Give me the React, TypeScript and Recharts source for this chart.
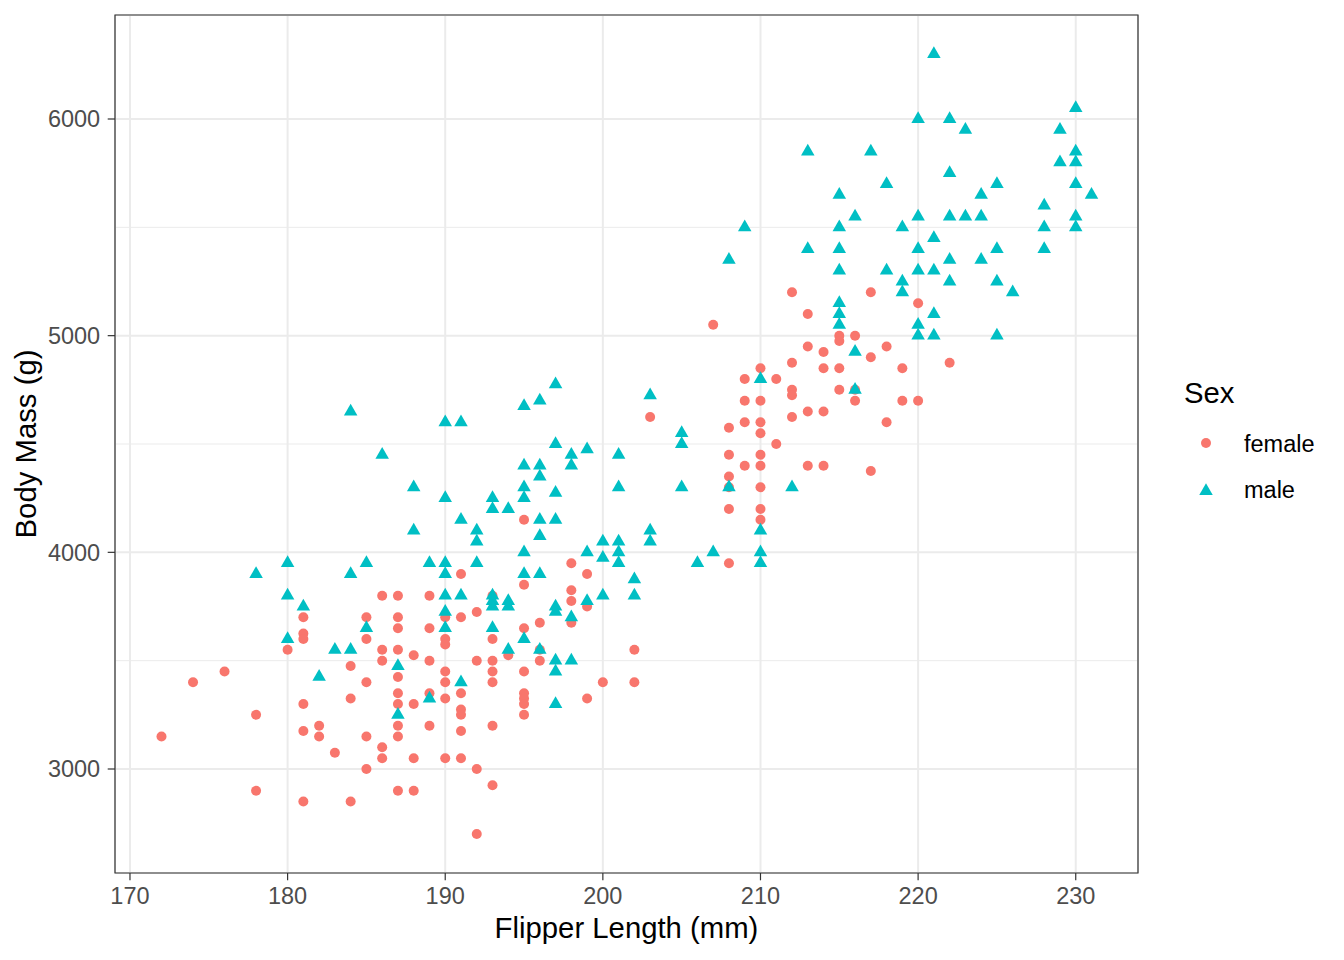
import { ScatterChart, Scatter, XAxis, YAxis, CartesianGrid, ReferenceArea, Label } from 'recharts';

const FONT = '"Liberation Sans", Arial, Helvetica, sans-serif';
const FEMALE_COLOR = '#F8766D';
const MALE_COLOR = '#00BFC4';

const xTicks = [170, 180, 190, 200, 210, 220, 230];
const xMinorTicks = [175, 185, 195, 205, 215, 225];
const yTicks = [3000, 4000, 5000, 6000];
const yMinorTicks = [3500, 4500, 5500];
const legendLabels = ['female', 'male'];

// [flipper length (mm), body mass (g)]
const femalePoints: [number, number][] = [
  [172, 3150], [174, 3400], [176, 3450], [178, 3250], [178, 2900], [180, 3550],
  [181, 3700], [181, 3625], [181, 3600], [181, 3300], [181, 3175], [181, 2850],
  [182, 3200], [182, 3150], [183, 3075], [184, 3475], [184, 3325], [184, 2850],
  [185, 3700], [185, 3600], [185, 3400], [185, 3150], [185, 3000],
  [186, 3800], [186, 3550], [186, 3500], [186, 3100], [186, 3050],
  [187, 3800], [187, 3700], [187, 3650], [187, 3550], [187, 3425], [187, 3350],
  [187, 3300], [187, 3200], [187, 3150], [187, 2900],
  [188, 3525], [188, 3300], [188, 3050], [188, 2900],
  [189, 3800], [189, 3650], [189, 3500], [189, 3350], [189, 3200],
  [190, 3700], [190, 3600], [190, 3575], [190, 3450], [190, 3400], [190, 3325], [190, 3050],
  [191, 3900], [191, 3700], [191, 3350], [191, 3275], [191, 3250], [191, 3175], [191, 3050],
  [192, 3725], [192, 3500], [192, 3000], [192, 2700],
  [193, 3800], [193, 3600], [193, 3500], [193, 3450], [193, 3400], [193, 3200], [193, 2925],
  [194, 3525],
  [195, 4150], [195, 3850], [195, 3650], [195, 3450], [195, 3350], [195, 3325], [195, 3300], [195, 3250],
  [196, 3675], [196, 3550], [196, 3500],
  [198, 3950], [198, 3825], [198, 3775], [198, 3675],
  [199, 3900], [199, 3750], [199, 3325], [200, 3400], [202, 3550], [202, 3400],
  [203, 4625], [207, 5050],
  [208, 4575], [208, 4450], [208, 4350], [208, 4300], [208, 4200], [208, 3950],
  [209, 4800], [209, 4700], [209, 4600], [209, 4400],
  [210, 4850], [210, 4700], [210, 4600], [210, 4550], [210, 4450], [210, 4400],
  [210, 4300], [210, 4200], [210, 4150],
  [211, 4800], [211, 4500],
  [212, 5200], [212, 4875], [212, 4750], [212, 4725], [212, 4625],
  [213, 5100], [213, 4950], [213, 4650], [213, 4400],
  [214, 4925], [214, 4850], [214, 4650], [214, 4400],
  [215, 5000], [215, 4975], [215, 4850], [215, 4750],
  [216, 5000], [216, 4750], [216, 4700],
  [217, 5200], [217, 4900], [217, 4375],
  [218, 4950], [218, 4600], [219, 4850], [219, 4700], [220, 5150], [220, 4700], [222, 4875],
];

const malePoints: [number, number][] = [
  [178, 3900], [180, 3950], [180, 3800], [180, 3600], [181, 3750], [182, 3425], [183, 3550],
  [184, 4650], [184, 3900], [184, 3550], [185, 3950], [185, 3650], [186, 4450],
  [187, 3475], [187, 3250], [188, 4300], [188, 4100], [189, 3950], [189, 3325],
  [190, 4600], [190, 4250], [190, 3950], [190, 3900], [190, 3800], [190, 3725], [190, 3650],
  [191, 4600], [191, 4150], [191, 3800], [191, 3400],
  [192, 4100], [192, 4050], [192, 3950],
  [193, 4250], [193, 4200], [193, 3800], [193, 3775], [193, 3750], [193, 3650],
  [194, 4200], [194, 3775], [194, 3750], [194, 3550],
  [195, 4675], [195, 4400], [195, 4300], [195, 4250], [195, 4000], [195, 3900], [195, 3600],
  [196, 4700], [196, 4400], [196, 4350], [196, 4150], [196, 4075], [196, 3900], [196, 3550],
  [197, 4775], [197, 4500], [197, 4275], [197, 4150], [197, 3750], [197, 3725],
  [197, 3500], [197, 3450], [197, 3300],
  [198, 4450], [198, 4400], [198, 3700], [198, 3500],
  [199, 4475], [199, 4000], [199, 3775],
  [200, 4050], [200, 3975], [200, 3800],
  [201, 4450], [201, 4300], [201, 4050], [201, 4000], [201, 3950],
  [202, 3875], [202, 3800], [203, 4725], [203, 4100], [203, 4050],
  [205, 4550], [205, 4500], [205, 4300], [206, 3950], [207, 4000],
  [208, 5350], [208, 4300], [209, 5500],
  [210, 4800], [210, 4100], [210, 4000], [210, 3950], [212, 4300],
  [213, 5850], [213, 5400],
  [215, 5650], [215, 5500], [215, 5400], [215, 5300], [215, 5150], [215, 5100], [215, 5050],
  [216, 5550], [216, 4925], [216, 4750], [217, 5850], [218, 5700], [218, 5300],
  [219, 5500], [219, 5250], [219, 5200],
  [220, 6000], [220, 5550], [220, 5400], [220, 5300], [220, 5050], [220, 5000],
  [221, 6300], [221, 5450], [221, 5300], [221, 5100], [221, 5000],
  [222, 6000], [222, 5750], [222, 5550], [222, 5350], [222, 5250],
  [223, 5950], [223, 5550], [224, 5650], [224, 5550], [224, 5350],
  [225, 5700], [225, 5400], [225, 5250], [225, 5000], [226, 5200],
  [228, 5600], [228, 5500], [228, 5400], [229, 5950], [229, 5800],
  [230, 6050], [230, 5850], [230, 5800], [230, 5700], [230, 5550], [230, 5500], [231, 5650],
];

const toRows = (pts: [number, number][]) => pts.map(([flipper, mass]) => ({ flipper, mass }));
const femaleRows = toRows(femalePoints);
const maleRows = toRows(malePoints);

// ggplot-style 5% expansion of the data range
function expand(vals: number[]): [number, number] {
  const lo = Math.min(...vals);
  const hi = Math.max(...vals);
  const pad = (hi - lo) * 0.05;
  return [lo - pad, hi + pad];
}
const allPts = [...femalePoints, ...malePoints];
const xDomain = expand(allPts.map(p => p[0]));
const yDomain = expand(allPts.map(p => p[1]));

const Dot = ({ cx, cy }: any) => <circle cx={cx} cy={cy} r={5} fill={FEMALE_COLOR} />;

const Tri = ({ cx, cy }: any) => {
  const r = 7.8;
  const hw = r * 0.866;
  return (
    <polygon
      points={`${cx},${cy - r} ${cx + hw},${cy + r / 2} ${cx - hw},${cy + r / 2}`}
      fill={MALE_COLOR}
    />
  );
};

const tickStyle = { fill: '#4D4D4D', fontSize: 23.5, fontFamily: FONT };
const tickLine = { stroke: '#333333', strokeWidth: 1.2 };

function Legend() {
  return (
    <svg width={184} height={140} style={{ position: 'absolute', left: 1160, top: 370 }}>
      <text x={24} y={33} fontSize={29.3} fontFamily={FONT} fill="#000">Sex</text>
      <circle cx={46} cy={73} r={5} fill={FEMALE_COLOR} />
      <text x={84} y={81.5} fontSize={23.5} fontFamily={FONT} fill="#000">{legendLabels[0]}</text>
      <Tri cx={46} cy={121} />
      <text x={84} y={127.5} fontSize={23.5} fontFamily={FONT} fill="#000">{legendLabels[1]}</text>
    </svg>
  );
}

export default function App() {
  return (
    <div style={{ position: 'absolute', left: 0, top: 0, width: 1344, height: 960, background: '#fff' }}>
      <ScatterChart width={1344} height={960} margin={{ top: 15, right: 206, bottom: 0, left: 0 }}>
        <XAxis
          xAxisId="minor" type="number" hide domain={xDomain} ticks={xMinorTicks} allowDataOverflow
        />
        <YAxis
          yAxisId="minor" type="number" hide domain={yDomain} ticks={yMinorTicks} allowDataOverflow
        />
        <CartesianGrid xAxisId="minor" yAxisId="minor" stroke="#EBEBEB" strokeWidth={1} />
        <CartesianGrid stroke="#EBEBEB" strokeWidth={2} />
        <XAxis
          dataKey="flipper"
          type="number"
          domain={xDomain}
          ticks={xTicks}
          allowDataOverflow
          height={87}
          axisLine={false}
          tickLine={tickLine}
          tickSize={7.3}
          tickMargin={7.5}
          tick={tickStyle}
        >
          <Label
            value="Flipper Length (mm)"
            position="insideBottom"
            offset={22}
            fill="#000"
            fontSize={29.3}
            fontFamily={FONT}
          />
        </XAxis>
        <YAxis
          dataKey="mass"
          type="number"
          domain={yDomain}
          ticks={yTicks}
          allowDataOverflow
          width={115}
          axisLine={false}
          tickLine={tickLine}
          tickSize={7.3}
          tickMargin={7.5}
          tick={tickStyle}
        >
          <Label
            content={({ viewBox }: any) => (
              <text
                transform={`translate(36, ${viewBox.y + viewBox.height / 2}) rotate(-90)`}
                textAnchor="middle"
                fontSize={29.3}
                fontFamily={FONT}
                fill="#000"
              >
                Body Mass (g)
              </text>
            )}
          />
        </YAxis>
        <Scatter data={femaleRows} shape={Dot} isAnimationActive={false} />
        <Scatter data={maleRows} shape={Tri} isAnimationActive={false} />
        <ReferenceArea
          x1={xDomain[0]} x2={xDomain[1]} y1={yDomain[0]} y2={yDomain[1]}
          fill="none" stroke="#333333" strokeWidth={1.2} fillOpacity={0}
        />
      </ScatterChart>
      <Legend />
    </div>
  );
}
